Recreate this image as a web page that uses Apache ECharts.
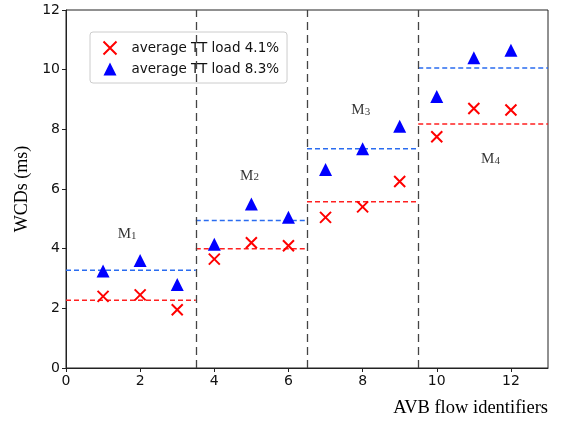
<!DOCTYPE html>
<html>
<head>
<meta charset="utf-8">
<script src="https://cdn.jsdelivr.net/npm/echarts@6/dist/echarts.min.js"></script>
<style>html,body{margin:0;padding:0;background:#fff}#main{width:562px;height:423px}</style>
</head>
<body>
<div id="main"></div>
<script>
// 数据
var flowIds = [1, 2, 3, 4, 5, 6, 7, 8, 9, 10, 11, 12];
var load41 = [2.4, 2.45, 1.95, 3.65, 4.2, 4.1, 5.05, 5.4, 6.25, 7.75, 8.7, 8.65];
var load83 = [3.25, 3.6, 2.8, 4.15, 5.5, 5.05, 6.65, 7.35, 8.1, 9.1, 10.4, 10.65];
// 分段 (M1..M4) 边界与平均线
var segBounds = [0, 3.5, 6.5, 9.5, 13];
var avg41 = [2.27, 4.0, 5.57, 8.18];
var avg83 = [3.28, 4.94, 7.35, 10.06];
var segNames = ['1', '2', '3', '4'];
var segLabelPos = [[1.65, 4.5], [4.95, 6.45], [7.95, 8.65], [11.45, 7.0]];
var xTicks = [0, 2, 4, 6, 8, 10, 12];

var xPath = 'path://M0,0 L10,10 M10,0 L0,10';

function pairs(xs, ys) {
    return xs.map(function(x, i) { return [x, ys[i]]; });
}

// 平均线: 每段一条, 段之间用 null 断开
function avgLine(avgs) {
    var d = [];
    avgs.forEach(function(v, i) {
        d.push([segBounds[i], v]);
        d.push([segBounds[i + 1], v]);
        d.push(null);
    });
    return d;
}

var myChart = echarts.init(document.getElementById('main'));

var option = {
    animation: false,
    backgroundColor: '#fff',
    grid: {
        left: 66, right: 14, top: 10, bottom: 55,
        show: true, borderColor: '#222', borderWidth: 1
    },
    legend: {
        left: 90, top: 32,
        orient: 'vertical',
        itemGap: 5,
        itemWidth: 13, itemHeight: 13,
        padding: [7, 8, 7, 11],
        borderColor: '#ccc', borderWidth: 1, borderRadius: 3,
        textStyle: { fontFamily: 'DejaVu Sans', fontSize: 13.5, color: '#111', padding: [0, 0, 0, 10] },
        data: ['average TT load 4.1%', 'average TT load 8.3%']
    },
    xAxis: {
        type: 'value', min: 0, max: 13,
        splitLine: { show: false },
        axisLine: { onZero: false, lineStyle: { color: '#222' } },
        axisTick: { show: true, length: 4, customValues: xTicks, lineStyle: { color: '#222' } },
        axisLabel: { customValues: xTicks, fontFamily: 'DejaVu Sans', fontSize: 14, color: '#111', margin: 6 },
        name: 'AVB flow identifiers',
        nameLocation: 'end',
        nameGap: 0,
        nameTextStyle: { fontFamily: 'Liberation Serif', fontSize: 18.5, color: '#000', verticalAlign: 'top', align: 'right', padding: [31, 0, 0, 0] }
    },
    yAxis: {
        type: 'value', min: 0, max: 12, interval: 2,
        splitLine: { show: false },
        axisLine: { show: true, lineStyle: { color: '#222' } },
        axisTick: { show: true, length: 4, lineStyle: { color: '#222' } },
        axisLabel: { fontFamily: 'DejaVu Sans', fontSize: 14, color: '#111', margin: 6 },
        name: 'WCDs (ms)',
        nameLocation: 'middle',
        nameGap: 33,
        nameTextStyle: { fontFamily: 'Liberation Serif', fontSize: 18, color: '#000' }
    },
    series: [{
        name: 'average TT load 4.1%',
        type: 'scatter',
        symbol: xPath,
        symbolSize: 11,
        itemStyle: { color: 'none', borderColor: '#ff0000', borderWidth: 2, opacity: 1 },
        data: pairs(flowIds, load41),
        z: 5
    }, {
        name: 'average TT load 8.3%',
        type: 'scatter',
        symbol: 'triangle',
        symbolSize: 13,
        itemStyle: { color: '#0000ff', opacity: 1 },
        data: pairs(flowIds, load83),
        z: 5
    }, {
        type: 'line',
        data: avgLine(avg41),
        symbol: 'none',
        connectNulls: false,
        lineStyle: { color: '#ff2020', width: 1.5, type: [5, 3] },
        z: 3
    }, {
        type: 'line',
        data: avgLine(avg83),
        symbol: 'none',
        connectNulls: false,
        lineStyle: { color: '#2a6cf0', width: 1.5, type: [5, 3] },
        z: 3,
        markLine: {
            silent: true,
            symbol: 'none',
            label: { show: false },
            lineStyle: { color: '#444', width: 1.3, type: [8, 5] },
            data: segBounds.slice(1, 4).map(function(b) { return { xAxis: b }; })
        }
    }, {
        // 段名 M1..M4
        type: 'scatter',
        symbolSize: 0,
        silent: true,
        data: segLabelPos.map(function(p, i) { return { value: p, name: segNames[i] }; }),
        label: {
            show: true,
            position: 'inside',
            formatter: function(p) { return '{m|M}{s|' + p.name + '}'; },
            rich: {
                m: { fontFamily: 'Liberation Serif', fontSize: 15, color: '#000' },
                s: { fontFamily: 'Liberation Serif', fontSize: 11, color: '#000', verticalAlign: 'bottom', padding: [4, 0, 0, 0] }
            }
        }
    }]
};

myChart.setOption(option);
</script>
</body>
</html>
